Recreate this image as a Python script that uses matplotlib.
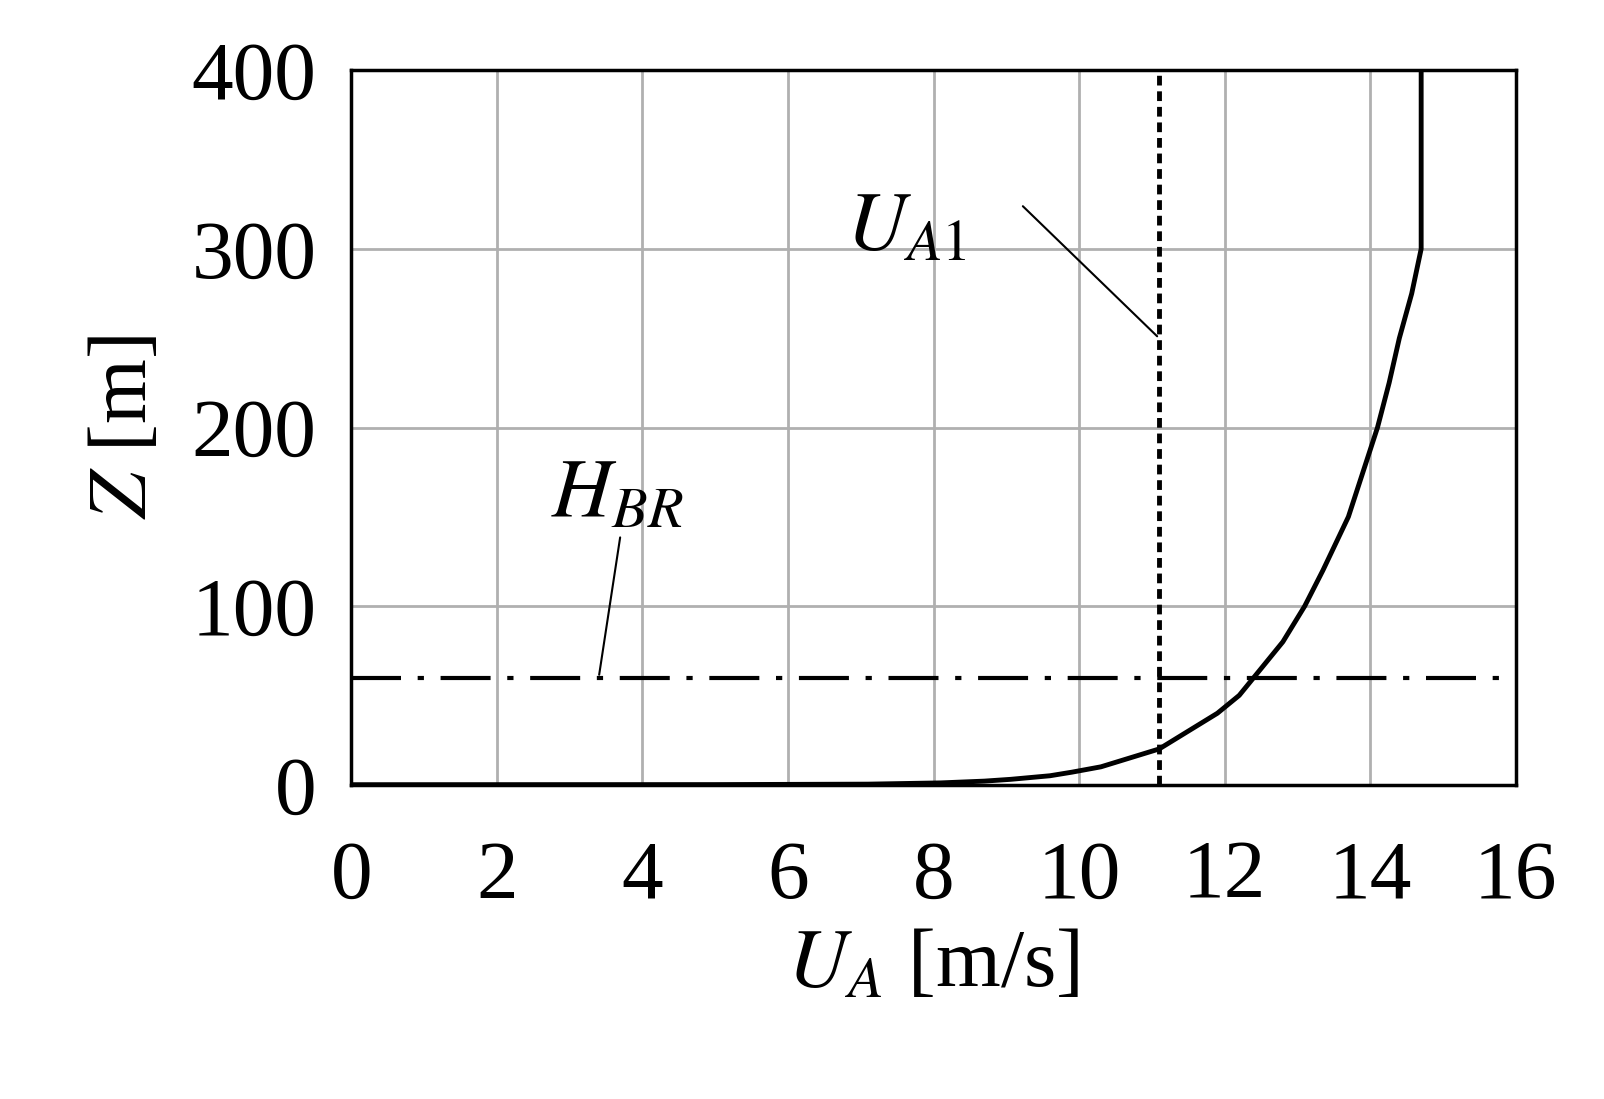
import matplotlib.pyplot as plt

plt.rcParams['font.family'] = ['Liberation Serif', 'DejaVu Serif']
plt.rcParams['mathtext.fontset'] = 'stix'

# wind speed profile
z_m = [0, 0.05, 0.3, 1, 2, 3, 5, 7, 10, 15, 20, 30, 40, 50, 60, 80, 100,
       120, 150, 175, 200, 225, 250, 275, 300, 400]
u_ms = [0, 5.0, 7.1, 8.1, 8.7, 9.06, 9.6, 9.9, 10.3, 10.7, 11.1, 11.5, 11.9,
        12.2, 12.4, 12.8, 13.1, 13.35, 13.7, 13.9, 14.1, 14.26, 14.4, 14.57,
        14.7, 14.7]
u_a1 = 11.1
h_br = 60

fig = plt.figure(figsize=(16.04, 10.99), dpi=100)
ax = fig.add_axes([0.219, 0.286, 0.726, 0.65])

ax.plot(u_ms, z_m, color='black', lw=3.5)
ax.plot([u_a1, u_a1], [0, 400], color='black', lw=3.5, ls=(0, (2, 1.2)))
ax.plot([0, 16], [h_br, h_br], color='black', lw=3, ls=(0, (12, 4, 1.5, 4)))

ax.set_xlim(0, 16)
ax.set_ylim(0, 400)
ax.set_xticks(range(0, 17, 2))
ax.set_yticks(range(0, 401, 100))
ax.grid(True, color='#b0b0b0', lw=2)
ax.tick_params(length=0, labelsize=60)
ax.tick_params(axis='x', pad=40)
ax.tick_params(axis='y', pad=25)
for s in ax.spines.values():
    s.set_linewidth(2.5)

ax.annotate('', xy=(u_a1, 250), xytext=(9.2, 325),
            arrowprops=dict(arrowstyle='-', color='black', lw=1.5))
ax.text(6.8, 300, r'$U_{A1}$', fontsize=60)
ax.annotate('', xy=(3.4, h_br), xytext=(3.7, 140),
            arrowprops=dict(arrowstyle='-', color='black', lw=1.5))
ax.text(2.75, 150, r'$H_{BR}$', fontsize=60)

ax.set_xlabel(r'$U_A$ [m/s]', fontsize=60, labelpad=10)
ax.set_ylabel(r'$Z$ [m]', fontsize=60, labelpad=20)

fig.savefig('out.png', dpi=100)
